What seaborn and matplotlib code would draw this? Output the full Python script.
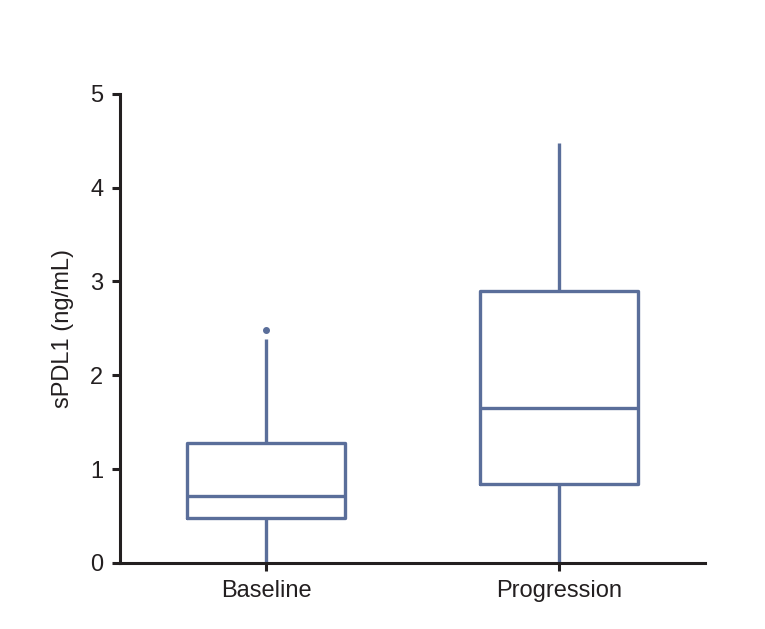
import numpy as np
import pandas as pd
import matplotlib
matplotlib.use("Agg")
import matplotlib.pyplot as plt
import seaborn as sns

# values (quartiles, whisker ends, outlier)
baseline = [0.0, 0.30, 0.48, 0.60, 0.71, 0.95, 1.28, 2.39, 2.48]
progression = [0.0, 0.84, 1.65, 2.90, 4.48]
groups = ["Baseline", "Progression"]
yticks = [0, 1, 2, 3, 4, 5]

df = pd.DataFrame({
    "group": ["Baseline"] * len(baseline) + ["Progression"] * len(progression),
    "value": baseline + progression,
})

sns.set_style("white")
plt.rcParams["font.family"] = ["Liberation Sans", "DejaVu Sans"]

box_color = "#5a6e9a"
text_color = "#231f20"

fig = plt.figure(figsize=(7.65, 6.29), dpi=100)
ax = fig.add_axes([0.157, 0.105, 0.765, 0.746])

sns.boxplot(data=df, x="group", y="value", order=groups, ax=ax, whis=1.43,
            width=0.54, fill=False, color=box_color, linewidth=2.4,
            showcaps=False,
            flierprops=dict(marker="o", markersize=4, markerfacecolor=box_color,
                            markeredgecolor=box_color))

ax.set_ylim(0, 5)
ax.set_xlim(-0.5, 1.5)
ax.set_yticks(yticks)
ax.set_xlabel("")
ax.set_ylabel("sPDL1 (ng/mL)", fontsize=17, color=text_color, labelpad=12)
ax.tick_params(axis="both", labelsize=17, colors=text_color, length=6, width=2.2,
               direction="out", left=True, bottom=True, pad=6)
sns.despine(ax=ax)
for s in ["left", "bottom"]:
    ax.spines[s].set_linewidth(2.2)
    ax.spines[s].set_color(text_color)

fig.savefig("out.png", dpi=100)
